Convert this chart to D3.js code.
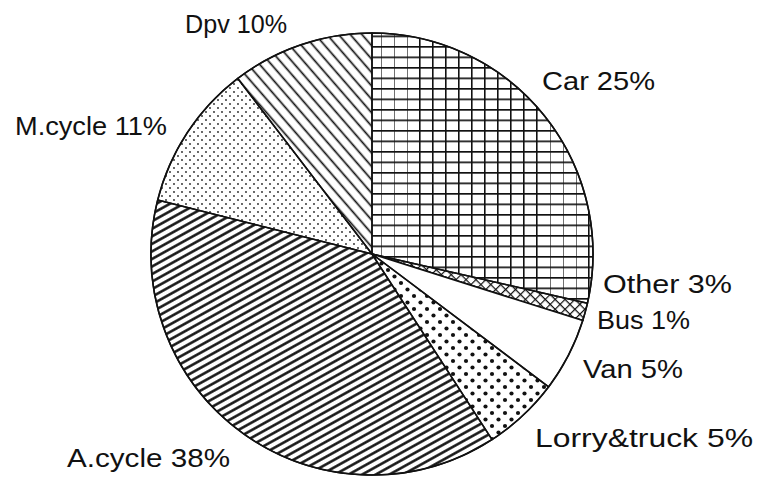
<!DOCTYPE html>
<html>
<head>
<meta charset="utf-8">
<style>
  body { margin: 0; background: #fff; }
  text { font-family: "Liberation Sans", Arial, sans-serif; font-size: 25px; fill: #111; }
</style>
</head>
<body>
<svg width="760" height="478" class="chart"></svg>
<script src="https://cdn.jsdelivr.net/npm/d3@7"></script>
<script>
// slices clockwise from 12 o'clock, share = size of the slice as drawn (%)
var categories = ["Car", "Other", "Bus", "Van", "Lorry&truck", "A.cycle", "M.cycle", "Dpv"];
var shares     = [28.6, 1.3, 0, 5.4, 5.6, 38.1, 10.7, 10.4];
// percentages printed in the labels
var labelPct   = [25, 3, 1, 5, 5, 38, 11, 10];

// fill pattern per slice
var fills = ["grid", "cross", "cross", "none", "bigdots", "hatchA", "finedots", "hatchD"];

// label placement (left x, baseline y, text width)
var labelLayout = {
  "Car":         [542, 90, 113],
  "Other":       [603, 293, 129],
  "Bus":         [597, 329, 93],
  "Van":         [583, 378, 100],
  "Lorry&truck": [535, 447, 218],
  "A.cycle":     [67, 467, 163],
  "M.cycle":     [15, 135, 152],
  "Dpv":         [185, 33, 102]
};

var cx = 372, cy = 254, r = 221;

var svg = d3.select(".chart");
var defs = svg.append("defs");

// grid for Car
var p = defs.append("pattern").attr("id", "grid").attr("patternUnits", "userSpaceOnUse")
  .attr("width", 13).attr("height", 10.5).attr("x", cx).attr("y", cy);
p.append("path").attr("d", "M0.8,0V10.5M0,0.8H13").attr("stroke", "#111").attr("stroke-width", 1.6);

// crosshatch
p = defs.append("pattern").attr("id", "cross").attr("patternUnits", "userSpaceOnUse")
  .attr("width", 7).attr("height", 7).attr("patternTransform", "rotate(45)");
p.append("path").attr("d", "M0,0.6H7M0.6,0V7").attr("stroke", "#111").attr("stroke-width", 1.2);

// big dots for lorries
p = defs.append("pattern").attr("id", "bigdots").attr("patternUnits", "userSpaceOnUse")
  .attr("width", 13).attr("height", 13);
p.append("circle").attr("cx", 3).attr("cy", 3).attr("r", 2.1).attr("fill", "#111");
p.append("circle").attr("cx", 9.5).attr("cy", 9.5).attr("r", 2.1).attr("fill", "#111");

// dense hatch for A.cycle
p = defs.append("pattern").attr("id", "hatchA").attr("patternUnits", "userSpaceOnUse")
  .attr("width", 20).attr("height", 6.6).attr("patternTransform", "rotate(-29)");
p.append("path").attr("d", "M0,3.3H20").attr("stroke", "#111").attr("stroke-width", 2.5);

// fine dots for M.cycle
p = defs.append("pattern").attr("id", "finedots").attr("patternUnits", "userSpaceOnUse")
  .attr("width", 8).attr("height", 8);
p.append("circle").attr("cx", 2).attr("cy", 2).attr("r", 0.9).attr("fill", "#222");
p.append("circle").attr("cx", 6).attr("cy", 6).attr("r", 0.9).attr("fill", "#222");

// hatch for Dpv
p = defs.append("pattern").attr("id", "hatchD").attr("patternUnits", "userSpaceOnUse")
  .attr("width", 20).attr("height", 8.8).attr("patternTransform", "rotate(49)");
p.append("path").attr("d", "M0,4.4H20").attr("stroke", "#111").attr("stroke-width", 1.7);

var data = categories.map(function(c, i) {
  return { name: c, share: shares[i], pct: labelPct[i], fill: fills[i] };
});

var pie = d3.pie().sort(null).value(function(d) { return d.share; });
var arc = d3.arc().innerRadius(0).outerRadius(r);

var g = svg.append("g").attr("transform", "translate(" + cx + "," + cy + ")");

g.selectAll("path.slice")
  .data(pie(data))
  .enter().append("path")
  .attr("class", "slice")
  .attr("d", arc)
  .attr("fill", function(d) { return d.data.fill == "none" ? "#fff" : "url(#" + d.data.fill + ")"; })
  .attr("stroke", "#111")
  .attr("stroke-width", 1.5)
  .attr("stroke-linejoin", "round");

g.append("circle").attr("r", r).attr("fill", "none").attr("stroke", "#111").attr("stroke-width", 1.6);

svg.selectAll("text.label")
  .data(data)
  .enter().append("text")
  .attr("class", "label")
  .attr("x", function(d) { return labelLayout[d.name][0]; })
  .attr("y", function(d) { return labelLayout[d.name][1]; })
  .attr("textLength", function(d) { return labelLayout[d.name][2]; })
  .attr("lengthAdjust", "spacingAndGlyphs")
  .text(function(d) { return d.name + " " + d.pct + "%"; });
</script>
</body>
</html>
